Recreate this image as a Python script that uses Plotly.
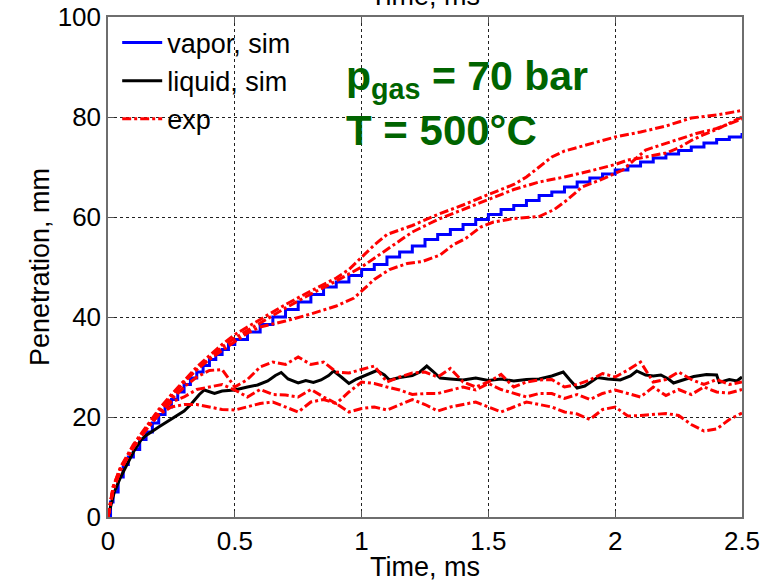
import plotly.graph_objects as go

# ---------------- data ----------------
# vapor penetration, simulation (staircase)
vap_t = [0, 0.01, 0.02, 0.04, 0.06, 0.08, 0.1, 0.125, 0.15, 0.175, 0.2, 0.225, 0.25, 0.275,
         0.3, 0.325, 0.35, 0.375, 0.4, 0.425, 0.45, 0.475, 0.5,
         0.55, 0.6, 0.65, 0.7, 0.75, 0.8, 0.85, 0.9, 0.95, 1.0, 1.05, 1.1, 1.15, 1.2, 1.25,
         1.3, 1.35, 1.4, 1.45, 1.5, 1.55, 1.6, 1.65, 1.7, 1.75, 1.8, 1.85, 1.9, 1.95, 2.0,
         2.05, 2.1, 2.15, 2.2, 2.25, 2.3, 2.35, 2.4, 2.45, 2.5]
vap_sim = [0, 3, 5, 8, 10.5, 12, 13.5, 15.5, 17, 18.8, 20.5, 22, 23.5, 25,
           26.5, 27.8, 29, 30.3, 31.5, 32.5, 33.5, 34.5, 35.5,
           37, 38.5, 40, 41.5, 43, 44.5, 46, 47, 48.3, 49.5, 50.5, 52, 53, 54.2, 55.5,
           56.5, 57.5, 58.5, 59.5, 60.5, 61.5, 62.3, 63.3, 64.3, 65, 66, 67, 67.8, 68.6, 69.4,
           70.2, 71, 71.8, 72.6, 73.3, 74, 74.8, 75.5, 76, 76.8]

# liquid penetration, simulation
liq_t = [0, 0.025, 0.05, 0.075, 0.1, 0.13, 0.15, 0.2, 0.263, 0.3, 0.33, 0.36, 0.38, 0.42, 0.45,
         0.5, 0.55, 0.59, 0.63, 0.66, 0.683, 0.71, 0.75, 0.78, 0.81, 0.84, 0.87, 0.89, 0.92,
         0.95, 0.98, 1.02, 1.06, 1.09, 1.11, 1.15, 1.2, 1.23, 1.257, 1.28, 1.31, 1.35, 1.4,
         1.45, 1.5, 1.55, 1.6, 1.65, 1.7, 1.75, 1.795, 1.82, 1.85, 1.88, 1.93, 1.97, 2.02,
         2.06, 2.085, 2.12, 2.15, 2.18, 2.21, 2.23, 2.27, 2.31, 2.36, 2.4, 2.41, 2.45, 2.48, 2.5]
liq_sim = [0, 5, 8, 10.5, 13, 15.4, 16.3, 18, 20, 21.2, 22.7, 24.5, 25.4, 24.7, 25.2,
           25.4, 26, 26.4, 27.2, 28.3, 28.9, 27.6, 26.8, 27.3, 26.9, 27.4, 28.3, 29.2, 28,
           26.7, 27.6, 28.4, 29.3, 28.4, 27.4, 27.9, 28.3, 29, 30.2, 29.2, 27.8, 27.6, 27.4,
           27.8, 27.3, 27.6, 27.2, 27.5, 27.6, 28.2, 29, 27.5, 25.8, 26.2, 27.9, 27.6, 27.4,
           28.2, 29.2, 28.4, 28.2, 28.4, 27.6, 26.8, 27.4, 28.1, 28.5, 28.4, 26.9, 27.5, 27.2, 28]

# experiments: vapor (3 runs)
expA_t = [0, 0.02, 0.05, 0.1, 0.15, 0.2, 0.25, 0.3, 0.35, 0.4, 0.45, 0.5, 0.6, 0.7, 0.8, 0.9,
          0.95, 1.0, 1.05, 1.1, 1.2, 1.3, 1.4, 1.5, 1.6, 1.65, 1.7, 1.75, 1.8, 1.9, 2.0, 2.1,
          2.2, 2.3, 2.4, 2.5]
expA_v = [0, 6, 10, 14.5, 18, 21.5, 24.5, 27.3, 30, 32.3, 34.5, 36.5, 39.5, 42.5, 45.2, 47.8,
          49.5, 52, 54.4, 56.5, 58.3, 60.5, 62.4, 64.5, 66.5, 68, 70, 72, 73.2, 74.6, 76, 77,
          78.2, 79.8, 80.4, 81.3]
expB_t = [0, 0.02, 0.05, 0.1, 0.15, 0.2, 0.25, 0.3, 0.35, 0.4, 0.45, 0.5, 0.6, 0.7, 0.8, 0.9,
          1.0, 1.1, 1.2, 1.3, 1.4, 1.5, 1.6, 1.7, 1.8, 1.9, 2.0, 2.05, 2.1, 2.2, 2.25, 2.3,
          2.35, 2.4, 2.45, 2.5]
expB_v = [0, 5.5, 9.5, 14, 17.5, 21, 24, 27, 29.5, 31.8, 34, 35.8, 38.8, 41.8, 44.6, 47.2,
          50, 53.5, 57, 59.5, 61.5, 63.5, 65.5, 67, 68, 69.2, 70.5, 71.4, 71.8, 72.8, 73.8, 75.3,
          76.5, 77.5, 78.8, 80]
expC_t = [0, 0.02, 0.05, 0.1, 0.15, 0.2, 0.25, 0.3, 0.35, 0.4, 0.45, 0.5, 0.55, 0.6, 0.7, 0.8,
          0.9, 0.97, 1.05, 1.11, 1.18, 1.24, 1.31, 1.36, 1.41, 1.47, 1.52, 1.6, 1.7, 1.76, 1.81,
          1.87, 1.94, 2.03, 2.12, 2.18, 2.26, 2.32, 2.4, 2.5]
expC_v = [0, 6, 10, 14, 17.8, 21.2, 24.2, 27, 29.5, 31.5, 33.3, 35, 36.8, 38, 39.2, 40.6,
          42.2, 43.8, 47.5, 49.5, 50.7, 51.1, 52.4, 54.4, 55.7, 58, 59, 59.7, 60.1, 61.5, 63.4,
          66, 67.4, 69.4, 73.4, 74.4, 75.7, 76.7, 77.7, 79.6]

# experiments: liquid (3 runs)
expL_t = [0, 0.02, 0.05, 0.1, 0.15, 0.2, 0.25, 0.3, 0.35, 0.4, 0.45, 0.5, 0.55, 0.6, 0.65, 0.7,
          0.75, 0.8, 0.85, 0.9, 0.95, 1.0, 1.05, 1.1, 1.15, 1.2, 1.25, 1.3, 1.35, 1.4, 1.45, 1.5,
          1.55, 1.6, 1.65, 1.7, 1.75, 1.8, 1.85, 1.9, 1.95, 2.0, 2.05, 2.1, 2.15, 2.2, 2.25, 2.3,
          2.35, 2.4, 2.45, 2.5]
expL1_v = [0, 5.5, 9.5, 14, 17.5, 20.5, 23.5, 26, 28, 29.3, 29.5, 26, 27.5, 30, 31, 30.5,
           32, 30.5, 31, 29, 28.8, 29.5, 30.2, 27, 28, 28.8, 29, 28, 29.7, 27, 26, 27,
           28.5, 26, 27, 27.4, 27.5, 26, 26.5, 27.4, 28.7, 28, 29.4, 31, 27, 27.5, 29, 27.5,
           26.5, 27.5, 26.5, 27]
expL2_v = [0, 5.5, 9.5, 14, 17.5, 20.5, 23, 24, 25.5, 26, 26.5, 25.4, 24, 25.5, 24.5, 24.4,
           24, 25.5, 24, 22.7, 25, 27, 26.7, 26, 25.4, 24.5, 24.7, 24.7, 25.4, 26, 25.4, 26.7,
           25.5, 24.7, 24, 24.7, 24.7, 23.7, 24.5, 23.5, 24.7, 25.4, 24.7, 24, 26, 24.3, 25.5, 24.5,
           26, 25, 24.8, 25.5]
expL3_v = [0, 5.5, 9.5, 14, 17.5, 20.5, 22, 22.5, 22.5, 22, 21.5, 21.4, 22, 22.7, 23, 22,
           21, 23, 23.5, 22.7, 21, 21.7, 22, 21.4, 22.4, 23.5, 22.5, 21.2, 22, 22.5, 23, 22,
           21, 22, 23, 22.5, 22, 21, 20.6, 19.5, 21.5, 22, 20.2, 20.3, 20.5, 20.7, 20.3, 18.5,
           17.2, 17.6, 19.5, 20.8]

x_ticks = [0, 0.5, 1, 1.5, 2, 2.5]
x_ticktext = ["0", "0.5", "1", "1.5", "2", "2.5"]
y_ticks = [0, 20, 40, 60, 80, 100]

# ---------------- figure ----------------
FONT = "Liberation Sans, Arial, Helvetica, sans-serif"
RED = "#ff0000"

fig = go.Figure()

fig.add_trace(go.Scatter(x=vap_t, y=vap_sim, mode="lines", name="vapor, sim",
                         line=dict(color="#0000ff", width=3, shape="hv")))
fig.add_trace(go.Scatter(x=liq_t, y=liq_sim, mode="lines", name="liquid, sim",
                         line=dict(color="#000000", width=3)))
exp_sets = [(expA_t, expA_v), (expB_t, expB_v), (expC_t, expC_v),
            (expL_t, expL1_v), (expL_t, expL2_v), (expL_t, expL3_v)]
for i, (tt, vv) in enumerate(exp_sets):
    fig.add_trace(go.Scatter(x=tt, y=vv, mode="lines", name="exp",
                             line=dict(color=RED, width=3, dash="dashdot"),
                             showlegend=(i == 0)))

axis_common = dict(
    automargin=False,
    showgrid=True, gridcolor="#222222", gridwidth=1, griddash="dot",
    showline=True, linecolor="#6e6e6e", linewidth=1.5, mirror="allticks",
    ticks="inside", ticklen=6, tickcolor="#555555", tickwidth=1,
    zeroline=False, tickfont=dict(family=FONT, size=26, color="#000"),
)

fig.update_layout(
    width=765, height=582,
    margin=dict(l=108, r=23, t=17, b=65, autoexpand=False),
    paper_bgcolor="white", plot_bgcolor="white",
    font=dict(family=FONT, color="#000"),
    xaxis=dict(range=[0, 2.5], tickvals=x_ticks, ticktext=x_ticktext,
               title=dict(text="Time, ms", font=dict(family=FONT, size=27), standoff=0),
               **axis_common),
    yaxis=dict(range=[0, 100], tickvals=y_ticks,
               title=dict(text="Penetration, mm", font=dict(family=FONT, size=27), standoff=0),
               **axis_common),
    legend=dict(x=0.0145, y=0.997, xanchor="left", yanchor="top",
                bgcolor="rgba(0,0,0,0)", borderwidth=0, itemwidth=40,
                font=dict(family=FONT, size=27), tracegroupgap=0),
    showlegend=True,
)

GREEN = "#006400"
fig.add_annotation(x=0.93, y=87.6, xref="x", yref="y", xanchor="left", yanchor="middle",
                   text="p<sub>gas</sub> = 70 bar", showarrow=False,
                   font=dict(family=FONT, size=41, color=GREEN, weight="bold"))
fig.add_annotation(x=0.93, y=77.4, xref="x", yref="y", xanchor="left", yanchor="middle",
                   text="T = 500°C", showarrow=False,
                   font=dict(family=FONT, size=42, color=GREEN, weight="bold"))
# duplicated (cut-off) axis label at the very top
fig.add_annotation(x=0.5, y=1, xref="paper", yref="paper", xanchor="center", yanchor="bottom",
                   yshift=4, text="Time, ms", showarrow=False,
                   font=dict(family=FONT, size=27, color="#000"))

fig.write_html("out.html", config={"displayModeBar": False},
               post_script="document.body.style.margin='0';document.body.style.padding='0';")
